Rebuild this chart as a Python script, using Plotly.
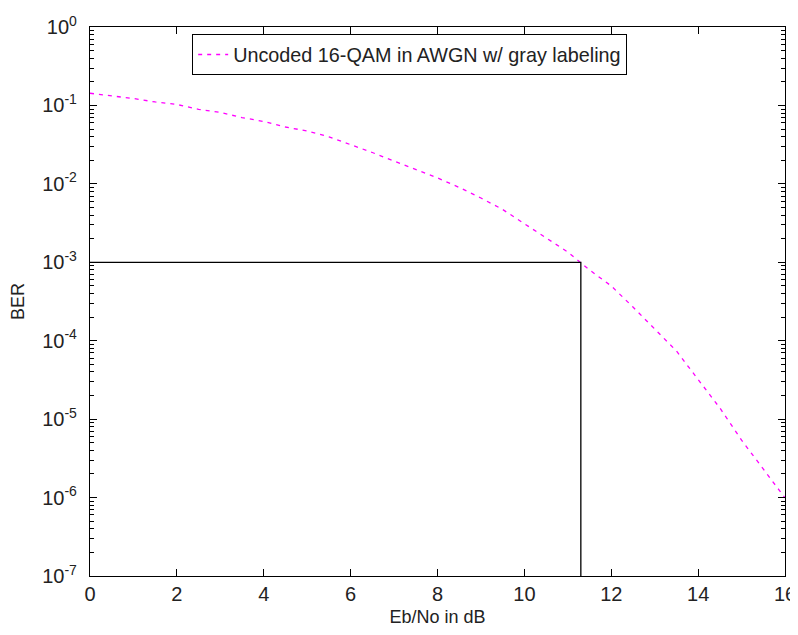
import plotly.graph_objects as go

ebno_db = [0, 0.5, 1, 1.5, 2, 2.5, 3, 3.5, 4, 4.5, 5, 5.5, 6, 6.5, 7, 7.5, 8,
           8.5, 9, 9.5, 10, 10.5, 11, 11.5, 12, 12.5, 13, 13.5, 14, 14.5, 15, 15.5, 16]
ber = [0.1429, 0.1327, 0.1225, 0.1107, 0.1028, 0.0893, 0.0813, 0.0701, 0.0624, 0.0531,
       0.0472, 0.0398, 0.0318, 0.0251, 0.0195, 0.0152, 0.0119, 0.0090, 0.0066, 0.00471,
       0.00313, 0.00204, 0.00135, 7.98e-4, 4.99e-4, 2.69e-4, 1.39e-4, 7.4e-5, 3.2e-5,
       1.39e-5, 5.4e-6, 2.31e-6, 9.9e-7]
target_x = [0, 11.3, 11.3]
target_y = [1e-3, 1e-3, 1e-7]
x_ticks = [0, 2, 4, 6, 8, 10, 12, 14, 16]
y_ticks = [1e-7, 1e-6, 1e-5, 1e-4, 1e-3, 1e-2, 1e-1, 1e0]
y_tick_text = ["10<sup>-7</sup>", "10<sup>-6</sup>", "10<sup>-5</sup>", "10<sup>-4</sup>",
               "10<sup>-3</sup>", "10<sup>-2</sup>", "10<sup>-1</sup>", "10<sup>0</sup>"]
y_minor = [d * m for d in y_ticks[:-1] for m in range(2, 10)]

font = "Liberation Sans, Arial, sans-serif"

fig = go.Figure()
fig.add_trace(go.Scatter(x=ebno_db, y=ber, mode="lines",
                         line=dict(color="#ff00ff", width=1.3, dash="4px,5px"),
                         name="Uncoded 16-QAM in AWGN w/ gray labeling"))
fig.add_trace(go.Scatter(x=target_x, y=target_y, mode="lines",
                         line=dict(color="black", width=1.3), showlegend=False))

axis_common = dict(showline=True, linecolor="black", linewidth=1.3, mirror="ticks",
                   ticks="inside", tickcolor="black", showgrid=False, zeroline=False,
                   automargin=False,
                   tickfont=dict(family=font, size=20, color="#222"))

fig.update_layout(
    width=790, height=627,
    margin=dict(l=82, r=13, t=19, b=59),
    paper_bgcolor="white", plot_bgcolor="white",
    font=dict(family=font, size=18, color="#222"),
    xaxis=dict(range=[0, 16], tickvals=x_ticks, ticklen=7,
               title=dict(text="Eb/No in dB", font=dict(family=font, size=18), standoff=6),
               **axis_common),
    yaxis=dict(type="log", range=[-7, 0], tickvals=y_ticks, ticktext=y_tick_text, ticklen=7,
               ticklabelstandoff=8,
               minor=dict(ticks="inside", ticklen=4, tickcolor="black", showgrid=False,
                          tickvals=y_minor),
               title=dict(text="BER", font=dict(family=font, size=18), standoff=12),
               **axis_common),
    legend=dict(x=0.147, y=0.987, xanchor="left", yanchor="top",
                bgcolor="white", bordercolor="black", borderwidth=1,
                font=dict(family=font, size=19.8)),
)

fig.write_html("out.html")
